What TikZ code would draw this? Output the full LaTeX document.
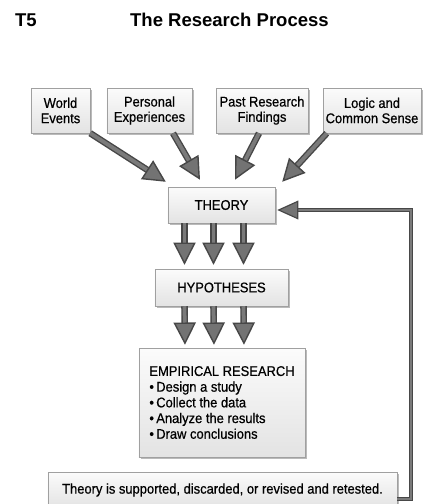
\documentclass[tikz,border=0pt]{standalone}
\usepackage{fontspec}
\setmainfont{Liberation Sans}[FakeStretch=0.92,FakeBold=0.6]
\newfontfamily\headfont{Liberation Sans}
\usetikzlibrary{arrows.meta,shadows,calc}
\definecolor{boxline}{HTML}{A0A0A0}

\begin{document}
\begin{tikzpicture}[x=0.03cm,y=-0.03cm,
    box/.style={draw=boxline,top color=gray!3,bottom color=gray!22,drop shadow={shadow xshift=2pt,shadow yshift=-2pt,fill=gray!90,opacity=0.6},inner sep=0pt,align=center,font=\fontsize{12}{13}\selectfont},
    fat/.style={draw=black!72,line width=1.2pt,double=black!52,double distance=3.2pt,-{Triangle[length=19pt,width=19pt,fill=black!55]}},
    thin/.style={draw=black!72,line width=1pt,double=black!52,double distance=1.6pt,-{Triangle[length=18pt,width=16pt,fill=black!55]}}]
    \useasboundingbox (0,0) rectangle (423,504);
    \node[anchor=base west,font=\headfont\bfseries\fontsize{15.8}{18}\selectfont] (num) at (11,26) {T5};
    \node[anchor=base west,font=\headfont\bfseries\fontsize{15.8}{18}\selectfont] (title) at (126,26) {The Research Process};
    % sources
    \node[box,minimum width=1.77cm,minimum height=1.35cm] (world) at (60.5,110.5) {World\\Events};
    \node[box,minimum width=2.55cm,minimum height=1.35cm] (personal) at (149.5,110.5) {Personal\\Experiences};
    \node[box,minimum width=2.76cm,minimum height=1.35cm] (past) at (262,110.5) {Past Research\\Findings};
    \node[box,minimum width=2.94cm,minimum height=1.35cm] (logic) at (372,110.5) {Logic and\\Common Sense};
    % main column
    \node[box,minimum width=3.21cm,minimum height=1.08cm] (theory) at (221.5,205) {THEORY};
    \node[box,minimum width=3.99cm,minimum height=1.11cm] (hyp) at (221.5,287.5) {HYPOTHESES};
    \node[box,minimum width=4.98cm,minimum height=3.27cm,align=left,font=\fontsize{12}{13.4}\selectfont] (emp) at (222,402.5) {EMPIRICAL RESEARCH\\
        •\kern2pt Design a study\\•\kern2pt Collect the data\\•\kern2pt Analyze the results\\•\kern2pt Draw conclusions};
    \node[box,minimum width=10.47cm,minimum height=1.08cm] (result) at (222.5,490) {Theory is supported, discarded, or revised and retested.};
    \draw[fat] (world.south east) -- ($(theory.north west)+(-2,-5)$);
    \draw[fat] ($(personal.south)+(23.5,0)$) -- ($(theory.north)+(-21.5,-7)$);
    \draw[fat] ($(past.south)+(-3,0)$) -- ($(theory.north)+(13.5,-7)$);
    \draw[fat] ($(logic.south west)+(4,0)$) -- ($(theory.north east)+(7,-5)$);
    \foreach \dx in {-37,-8,22} {
        \draw[fat] ($(theory.south)+(\dx,0)$) -- ($(hyp.north)+(\dx,-4)$);
        \draw[fat] ($(hyp.south)+(\dx,0)$) -- ($(emp.north)+(\dx,-3)$);
    }
    \coordinate (back) at (411,210);
    \draw[thin] ($(result.east)+(0,9)$) -| (back) -- ($(theory.east)+(2,5)$);
\end{tikzpicture}
\end{document}
